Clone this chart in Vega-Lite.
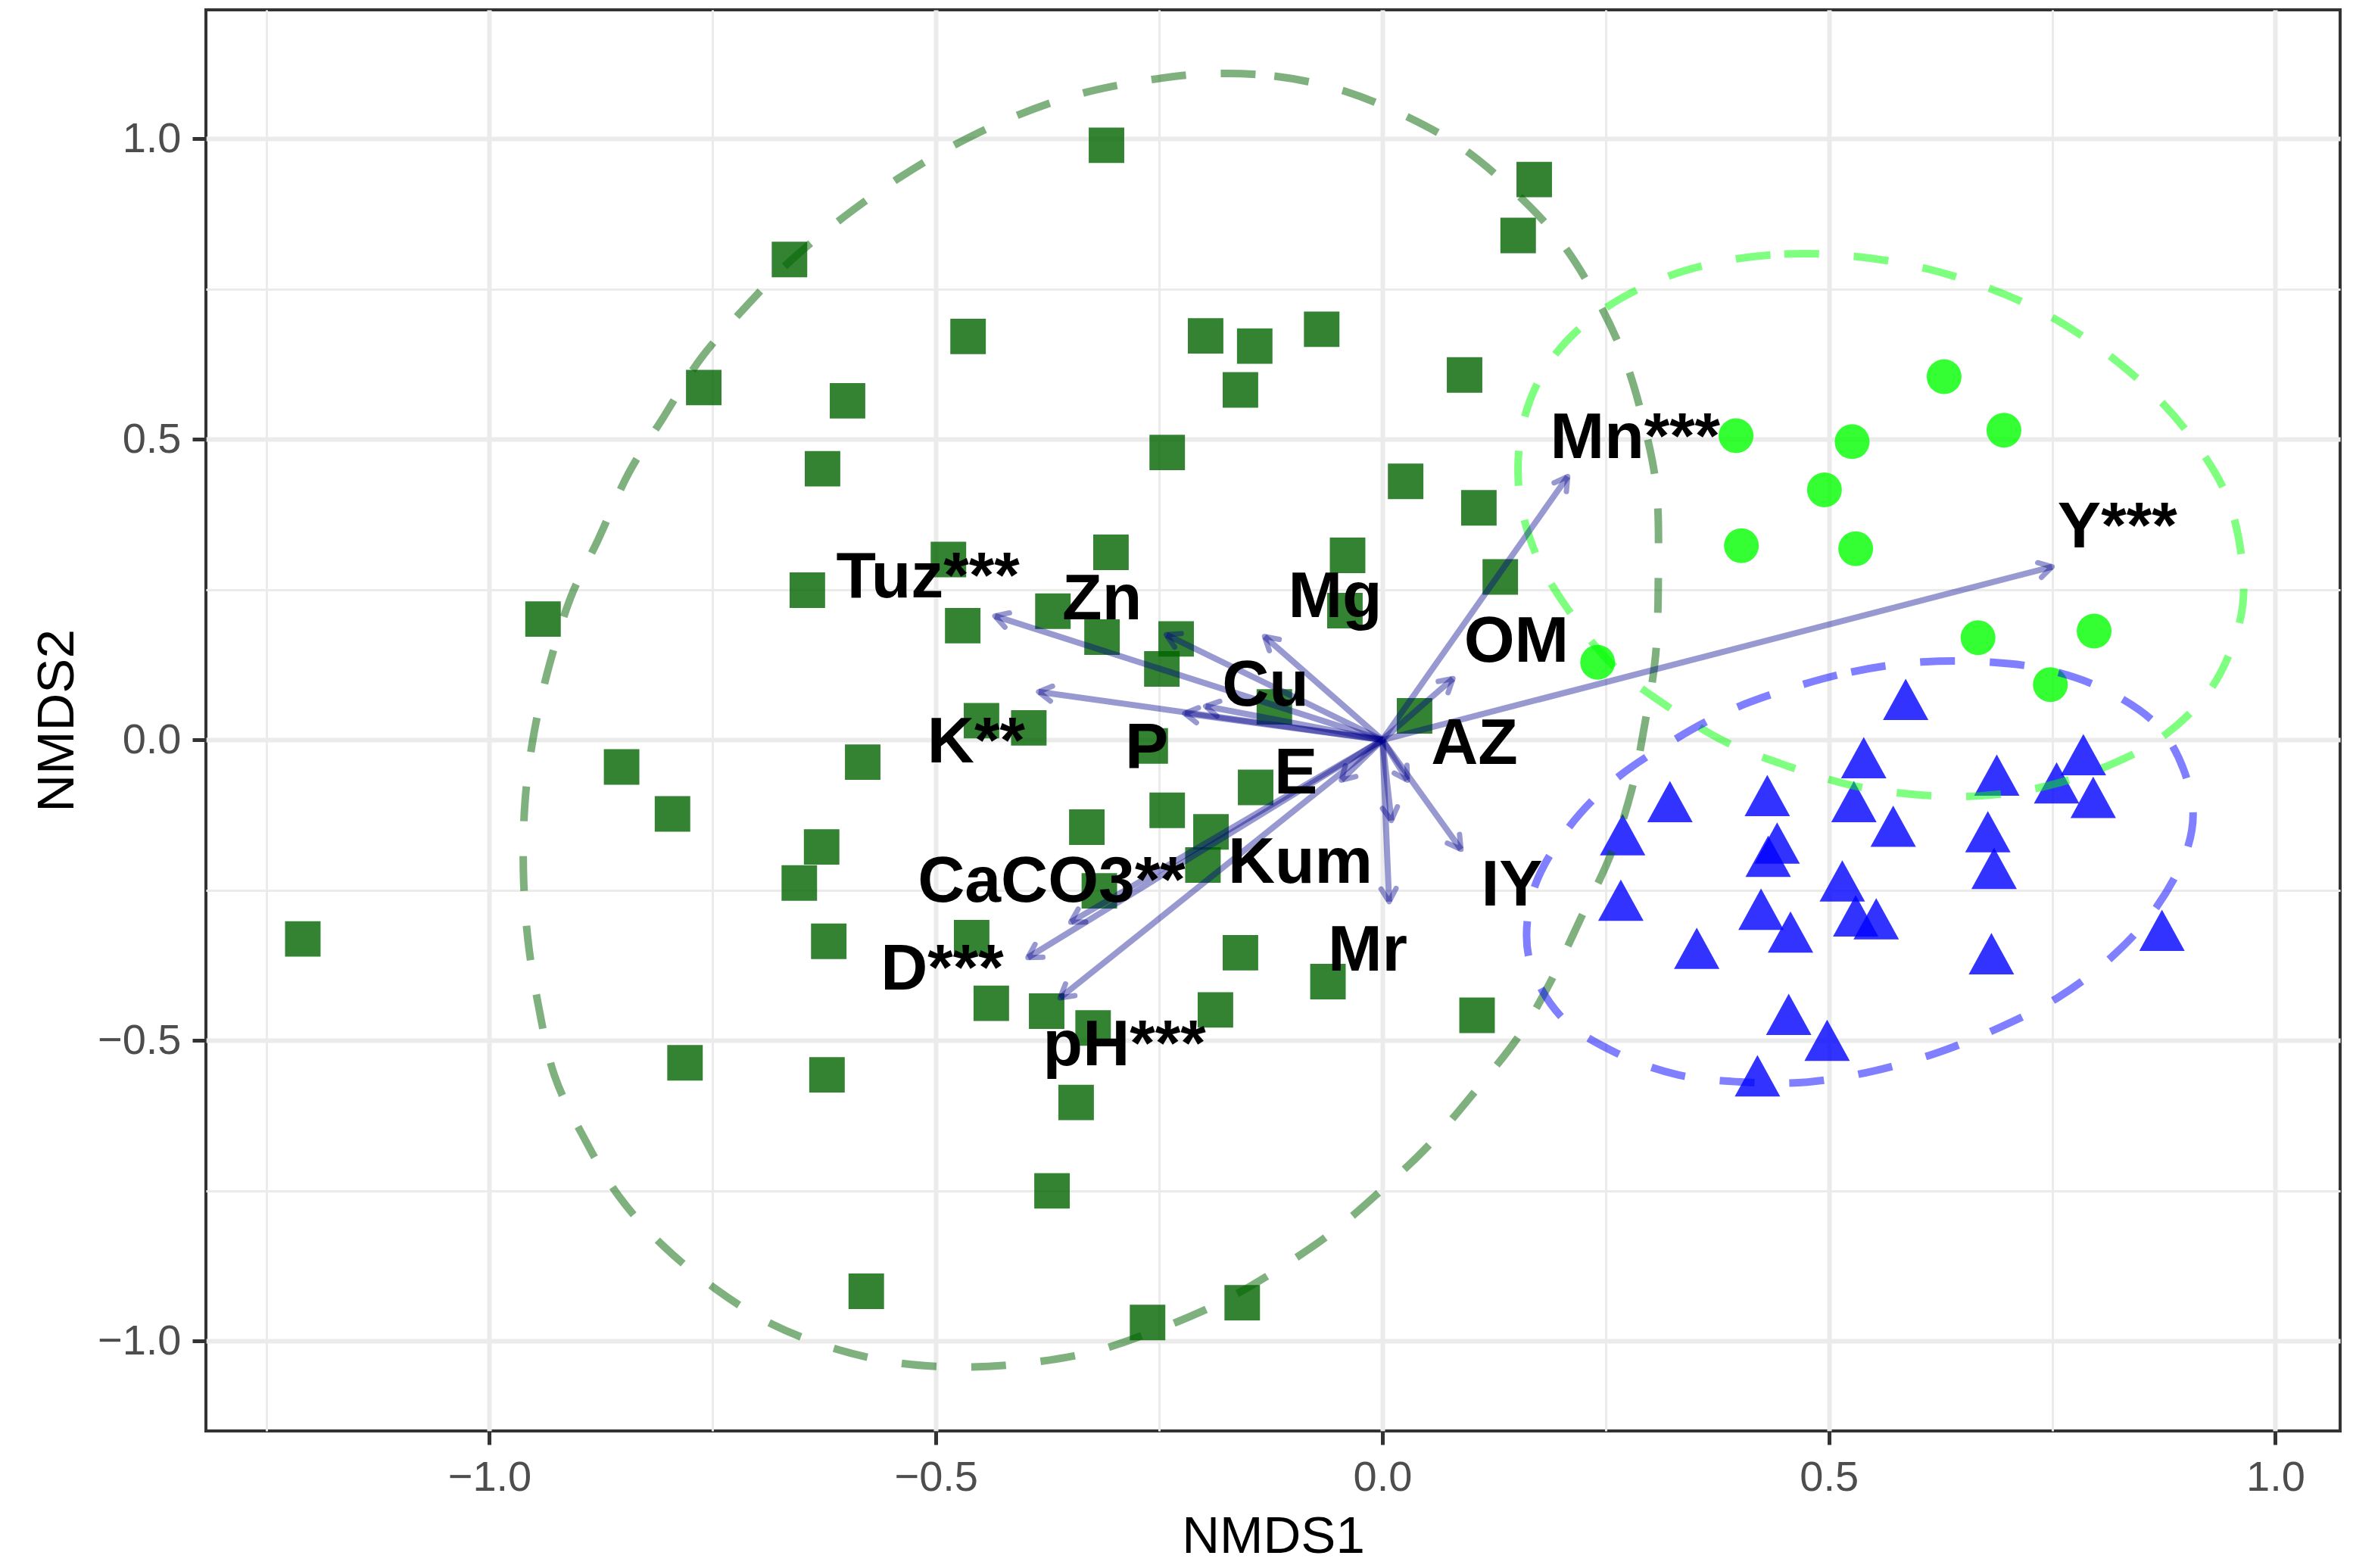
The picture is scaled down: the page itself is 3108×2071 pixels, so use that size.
{
  "$schema": "https://vega.github.io/schema/vega-lite/v6.json",
  "width": 2819,
  "height": 1877,
  "autosize": {"type": "none"},
  "padding": {"left": 272, "top": 13, "right": 17, "bottom": 181},
  "background": "white",
  "config": {
    "view": {"stroke": "#333333", "strokeWidth": 4},
    "axis": {
      "domain": false,
      "grid": true,
      "gridColor": "#EBEBEB",
      "tickColor": "#333333",
      "tickSize": 18,
      "tickWidth": 5,
      "labelFont": "Liberation Sans",
      "labelFontSize": 56,
      "labelColor": "#4D4D4D",
      "labelOverlap": false,
      "labelFlush": false,
      "titleFont": "Liberation Sans",
      "titleFontSize": 69,
      "titleFontWeight": "normal",
      "titleColor": "#000000"
    }
  },
  "datasets": {
    "sites": [
      {"group": "Grup 1", "NMDS1": -0.309, "NMDS2": 0.989},
      {"group": "Grup 1", "NMDS1": 0.170, "NMDS2": 0.932},
      {"group": "Grup 1", "NMDS1": 0.152, "NMDS2": 0.839},
      {"group": "Grup 1", "NMDS1": -0.664, "NMDS2": 0.799},
      {"group": "Grup 1", "NMDS1": -0.464, "NMDS2": 0.671},
      {"group": "Grup 1", "NMDS1": -0.198, "NMDS2": 0.672},
      {"group": "Grup 1", "NMDS1": -0.143, "NMDS2": 0.655},
      {"group": "Grup 1", "NMDS1": -0.068, "NMDS2": 0.683},
      {"group": "Grup 1", "NMDS1": 0.092, "NMDS2": 0.607},
      {"group": "Grup 1", "NMDS1": -0.760, "NMDS2": 0.586},
      {"group": "Grup 1", "NMDS1": -0.599, "NMDS2": 0.564},
      {"group": "Grup 1", "NMDS1": -0.159, "NMDS2": 0.582},
      {"group": "Grup 1", "NMDS1": -0.241, "NMDS2": 0.478},
      {"group": "Grup 1", "NMDS1": -0.627, "NMDS2": 0.451},
      {"group": "Grup 1", "NMDS1": 0.026, "NMDS2": 0.430},
      {"group": "Grup 1", "NMDS1": 0.108, "NMDS2": 0.386},
      {"group": "Grup 1", "NMDS1": -0.304, "NMDS2": 0.312},
      {"group": "Grup 1", "NMDS1": -0.039, "NMDS2": 0.307},
      {"group": "Grup 1", "NMDS1": -0.486, "NMDS2": 0.300},
      {"group": "Grup 1", "NMDS1": 0.132, "NMDS2": 0.271},
      {"group": "Grup 1", "NMDS1": -0.644, "NMDS2": 0.249},
      {"group": "Grup 1", "NMDS1": -0.470, "NMDS2": 0.190},
      {"group": "Grup 1", "NMDS1": -0.369, "NMDS2": 0.214},
      {"group": "Grup 1", "NMDS1": -0.314, "NMDS2": 0.171},
      {"group": "Grup 1", "NMDS1": -0.231, "NMDS2": 0.168},
      {"group": "Grup 1", "NMDS1": -0.247, "NMDS2": 0.118},
      {"group": "Grup 1", "NMDS1": -0.042, "NMDS2": 0.215},
      {"group": "Grup 1", "NMDS1": -0.121, "NMDS2": 0.055},
      {"group": "Grup 1", "NMDS1": 0.036, "NMDS2": 0.040},
      {"group": "Grup 1", "NMDS1": -0.449, "NMDS2": 0.032},
      {"group": "Grup 1", "NMDS1": -0.396, "NMDS2": 0.020},
      {"group": "Grup 1", "NMDS1": -0.260, "NMDS2": -0.010},
      {"group": "Grup 1", "NMDS1": -0.582, "NMDS2": -0.037},
      {"group": "Grup 1", "NMDS1": -0.852, "NMDS2": -0.045},
      {"group": "Grup 1", "NMDS1": -0.795, "NMDS2": -0.123},
      {"group": "Grup 1", "NMDS1": -0.142, "NMDS2": -0.079},
      {"group": "Grup 1", "NMDS1": -0.331, "NMDS2": -0.145},
      {"group": "Grup 1", "NMDS1": -0.241, "NMDS2": -0.117},
      {"group": "Grup 1", "NMDS1": -0.192, "NMDS2": -0.153},
      {"group": "Grup 1", "NMDS1": -0.201, "NMDS2": -0.208},
      {"group": "Grup 1", "NMDS1": -0.628, "NMDS2": -0.178},
      {"group": "Grup 1", "NMDS1": -0.653, "NMDS2": -0.238},
      {"group": "Grup 1", "NMDS1": -0.317, "NMDS2": -0.251},
      {"group": "Grup 1", "NMDS1": -0.460, "NMDS2": -0.329},
      {"group": "Grup 1", "NMDS1": -0.620, "NMDS2": -0.335},
      {"group": "Grup 1", "NMDS1": -0.940, "NMDS2": 0.201},
      {"group": "Grup 1", "NMDS1": -1.209, "NMDS2": -0.331},
      {"group": "Grup 1", "NMDS1": -0.159, "NMDS2": -0.354},
      {"group": "Grup 1", "NMDS1": -0.061, "NMDS2": -0.402},
      {"group": "Grup 1", "NMDS1": 0.106, "NMDS2": -0.458},
      {"group": "Grup 1", "NMDS1": -0.438, "NMDS2": -0.438},
      {"group": "Grup 1", "NMDS1": -0.376, "NMDS2": -0.451},
      {"group": "Grup 1", "NMDS1": -0.187, "NMDS2": -0.449},
      {"group": "Grup 1", "NMDS1": -0.324, "NMDS2": -0.479},
      {"group": "Grup 1", "NMDS1": -0.781, "NMDS2": -0.537},
      {"group": "Grup 1", "NMDS1": -0.622, "NMDS2": -0.557},
      {"group": "Grup 1", "NMDS1": -0.343, "NMDS2": -0.603},
      {"group": "Grup 1", "NMDS1": -0.370, "NMDS2": -0.750},
      {"group": "Grup 1", "NMDS1": -0.578, "NMDS2": -0.917},
      {"group": "Grup 1", "NMDS1": -0.263, "NMDS2": -0.969},
      {"group": "Grup 1", "NMDS1": -0.157, "NMDS2": -0.936},
      {"group": "Grup 2", "NMDS1": 0.629, "NMDS2": 0.604},
      {"group": "Grup 2", "NMDS1": 0.396, "NMDS2": 0.506},
      {"group": "Grup 2", "NMDS1": 0.526, "NMDS2": 0.496},
      {"group": "Grup 2", "NMDS1": 0.696, "NMDS2": 0.515},
      {"group": "Grup 2", "NMDS1": 0.495, "NMDS2": 0.416},
      {"group": "Grup 2", "NMDS1": 0.402, "NMDS2": 0.323},
      {"group": "Grup 2", "NMDS1": 0.530, "NMDS2": 0.318},
      {"group": "Grup 2", "NMDS1": 0.667, "NMDS2": 0.170},
      {"group": "Grup 2", "NMDS1": 0.797, "NMDS2": 0.181},
      {"group": "Grup 2", "NMDS1": 0.748, "NMDS2": 0.092},
      {"group": "Grup 2", "NMDS1": 0.241, "NMDS2": 0.129},
      {"group": "Grup 3", "NMDS1": 0.586, "NMDS2": 0.056},
      {"group": "Grup 3", "NMDS1": 0.539, "NMDS2": -0.041},
      {"group": "Grup 3", "NMDS1": 0.688, "NMDS2": -0.070},
      {"group": "Grup 3", "NMDS1": 0.785, "NMDS2": -0.036},
      {"group": "Grup 3", "NMDS1": 0.755, "NMDS2": -0.083},
      {"group": "Grup 3", "NMDS1": 0.796, "NMDS2": -0.107},
      {"group": "Grup 3", "NMDS1": 0.528, "NMDS2": -0.114},
      {"group": "Grup 3", "NMDS1": 0.431, "NMDS2": -0.104},
      {"group": "Grup 3", "NMDS1": 0.322, "NMDS2": -0.114},
      {"group": "Grup 3", "NMDS1": 0.572, "NMDS2": -0.155},
      {"group": "Grup 3", "NMDS1": 0.269, "NMDS2": -0.169},
      {"group": "Grup 3", "NMDS1": 0.442, "NMDS2": -0.183},
      {"group": "Grup 3", "NMDS1": 0.432, "NMDS2": -0.205},
      {"group": "Grup 3", "NMDS1": 0.678, "NMDS2": -0.164},
      {"group": "Grup 3", "NMDS1": 0.685, "NMDS2": -0.225},
      {"group": "Grup 3", "NMDS1": 0.515, "NMDS2": -0.246},
      {"group": "Grup 3", "NMDS1": 0.267, "NMDS2": -0.278},
      {"group": "Grup 3", "NMDS1": 0.424, "NMDS2": -0.293},
      {"group": "Grup 3", "NMDS1": 0.530, "NMDS2": -0.304},
      {"group": "Grup 3", "NMDS1": 0.553, "NMDS2": -0.309},
      {"group": "Grup 3", "NMDS1": 0.457, "NMDS2": -0.331},
      {"group": "Grup 3", "NMDS1": 0.873, "NMDS2": -0.328},
      {"group": "Grup 3", "NMDS1": 0.352, "NMDS2": -0.358},
      {"group": "Grup 3", "NMDS1": 0.682, "NMDS2": -0.367},
      {"group": "Grup 3", "NMDS1": 0.455, "NMDS2": -0.468},
      {"group": "Grup 3", "NMDS1": 0.498, "NMDS2": -0.511},
      {"group": "Grup 3", "NMDS1": 0.420, "NMDS2": -0.570}
    ],
    "ellipses": [
      {"group": "Grup 1", "i": 1, "NMDS1": -0.195, "NMDS2": 1.108},
      {"group": "Grup 1", "i": 2, "NMDS1": -0.121, "NMDS2": 1.104},
      {"group": "Grup 1", "i": 3, "NMDS1": -0.049, "NMDS2": 1.082},
      {"group": "Grup 1", "i": 4, "NMDS1": 0.020, "NMDS2": 1.042},
      {"group": "Grup 1", "i": 5, "NMDS1": 0.085, "NMDS2": 0.989},
      {"group": "Grup 1", "i": 6, "NMDS1": 0.142, "NMDS2": 0.920},
      {"group": "Grup 1", "i": 7, "NMDS1": 0.196, "NMDS2": 0.836},
      {"group": "Grup 1", "i": 8, "NMDS1": 0.237, "NMDS2": 0.742},
      {"group": "Grup 1", "i": 9, "NMDS1": 0.270, "NMDS2": 0.639},
      {"group": "Grup 1", "i": 10, "NMDS1": 0.292, "NMDS2": 0.531},
      {"group": "Grup 1", "i": 11, "NMDS1": 0.307, "NMDS2": 0.416},
      {"group": "Grup 1", "i": 12, "NMDS1": 0.309, "NMDS2": 0.278},
      {"group": "Grup 1", "i": 13, "NMDS1": 0.306, "NMDS2": 0.142},
      {"group": "Grup 1", "i": 14, "NMDS1": 0.294, "NMDS2": 0.028},
      {"group": "Grup 1", "i": 15, "NMDS1": 0.279, "NMDS2": -0.084},
      {"group": "Grup 1", "i": 16, "NMDS1": 0.255, "NMDS2": -0.193},
      {"group": "Grup 1", "i": 17, "NMDS1": 0.222, "NMDS2": -0.297},
      {"group": "Grup 1", "i": 18, "NMDS1": 0.189, "NMDS2": -0.400},
      {"group": "Grup 1", "i": 19, "NMDS1": 0.153, "NMDS2": -0.492},
      {"group": "Grup 1", "i": 20, "NMDS1": 0.103, "NMDS2": -0.586},
      {"group": "Grup 1", "i": 21, "NMDS1": 0.052, "NMDS2": -0.674},
      {"group": "Grup 1", "i": 22, "NMDS1": -0.002, "NMDS2": -0.750},
      {"group": "Grup 1", "i": 23, "NMDS1": -0.058, "NMDS2": -0.821},
      {"group": "Grup 1", "i": 24, "NMDS1": -0.124, "NMDS2": -0.887},
      {"group": "Grup 1", "i": 25, "NMDS1": -0.186, "NMDS2": -0.939},
      {"group": "Grup 1", "i": 26, "NMDS1": -0.254, "NMDS2": -0.982},
      {"group": "Grup 1", "i": 27, "NMDS1": -0.323, "NMDS2": -1.017},
      {"group": "Grup 1", "i": 28, "NMDS1": -0.396, "NMDS2": -1.036},
      {"group": "Grup 1", "i": 29, "NMDS1": -0.468, "NMDS2": -1.043},
      {"group": "Grup 1", "i": 30, "NMDS1": -0.543, "NMDS2": -1.036},
      {"group": "Grup 1", "i": 31, "NMDS1": -0.614, "NMDS2": -1.012},
      {"group": "Grup 1", "i": 32, "NMDS1": -0.683, "NMDS2": -0.972},
      {"group": "Grup 1", "i": 33, "NMDS1": -0.745, "NMDS2": -0.915},
      {"group": "Grup 1", "i": 34, "NMDS1": -0.805, "NMDS2": -0.842},
      {"group": "Grup 1", "i": 35, "NMDS1": -0.855, "NMDS2": -0.759},
      {"group": "Grup 1", "i": 36, "NMDS1": -0.894, "NMDS2": -0.662},
      {"group": "Grup 1", "i": 37, "NMDS1": -0.927, "NMDS2": -0.559},
      {"group": "Grup 1", "i": 38, "NMDS1": -0.945, "NMDS2": -0.443},
      {"group": "Grup 1", "i": 39, "NMDS1": -0.957, "NMDS2": -0.331},
      {"group": "Grup 1", "i": 40, "NMDS1": -0.962, "NMDS2": -0.216},
      {"group": "Grup 1", "i": 41, "NMDS1": -0.960, "NMDS2": -0.100},
      {"group": "Grup 1", "i": 42, "NMDS1": -0.950, "NMDS2": 0.012},
      {"group": "Grup 1", "i": 43, "NMDS1": -0.933, "NMDS2": 0.124},
      {"group": "Grup 1", "i": 44, "NMDS1": -0.909, "NMDS2": 0.237},
      {"group": "Grup 1", "i": 45, "NMDS1": -0.878, "NMDS2": 0.334},
      {"group": "Grup 1", "i": 46, "NMDS1": -0.844, "NMDS2": 0.444},
      {"group": "Grup 1", "i": 47, "NMDS1": -0.805, "NMDS2": 0.537},
      {"group": "Grup 1", "i": 48, "NMDS1": -0.763, "NMDS2": 0.635},
      {"group": "Grup 1", "i": 49, "NMDS1": -0.712, "NMDS2": 0.722},
      {"group": "Grup 1", "i": 50, "NMDS1": -0.662, "NMDS2": 0.798},
      {"group": "Grup 1", "i": 51, "NMDS1": -0.603, "NMDS2": 0.870},
      {"group": "Grup 1", "i": 52, "NMDS1": -0.541, "NMDS2": 0.935},
      {"group": "Grup 1", "i": 53, "NMDS1": -0.476, "NMDS2": 0.992},
      {"group": "Grup 1", "i": 54, "NMDS1": -0.410, "NMDS2": 1.038},
      {"group": "Grup 1", "i": 55, "NMDS1": -0.340, "NMDS2": 1.074},
      {"group": "Grup 1", "i": 56, "NMDS1": -0.268, "NMDS2": 1.096},
      {"group": "Grup 2", "i": 1, "NMDS1": 0.378, "NMDS2": 0.795},
      {"group": "Grup 2", "i": 2, "NMDS1": 0.450, "NMDS2": 0.808},
      {"group": "Grup 2", "i": 3, "NMDS1": 0.524, "NMDS2": 0.805},
      {"group": "Grup 2", "i": 4, "NMDS1": 0.597, "NMDS2": 0.788},
      {"group": "Grup 2", "i": 5, "NMDS1": 0.667, "NMDS2": 0.758},
      {"group": "Grup 2", "i": 6, "NMDS1": 0.735, "NMDS2": 0.715},
      {"group": "Grup 2", "i": 7, "NMDS1": 0.799, "NMDS2": 0.656},
      {"group": "Grup 2", "i": 8, "NMDS1": 0.857, "NMDS2": 0.585},
      {"group": "Grup 2", "i": 9, "NMDS1": 0.907, "NMDS2": 0.501},
      {"group": "Grup 2", "i": 10, "NMDS1": 0.946, "NMDS2": 0.404},
      {"group": "Grup 2", "i": 11, "NMDS1": 0.963, "NMDS2": 0.293},
      {"group": "Grup 2", "i": 12, "NMDS1": 0.960, "NMDS2": 0.196},
      {"group": "Grup 2", "i": 13, "NMDS1": 0.930, "NMDS2": 0.090},
      {"group": "Grup 2", "i": 14, "NMDS1": 0.877, "NMDS2": 0.009},
      {"group": "Grup 2", "i": 15, "NMDS1": 0.814, "NMDS2": -0.042},
      {"group": "Grup 2", "i": 16, "NMDS1": 0.743, "NMDS2": -0.077},
      {"group": "Grup 2", "i": 17, "NMDS1": 0.670, "NMDS2": -0.093},
      {"group": "Grup 2", "i": 18, "NMDS1": 0.597, "NMDS2": -0.091},
      {"group": "Grup 2", "i": 19, "NMDS1": 0.524, "NMDS2": -0.075},
      {"group": "Grup 2", "i": 20, "NMDS1": 0.453, "NMDS2": -0.043},
      {"group": "Grup 2", "i": 21, "NMDS1": 0.384, "NMDS2": -0.003},
      {"group": "Grup 2", "i": 22, "NMDS1": 0.320, "NMDS2": 0.055},
      {"group": "Grup 2", "i": 23, "NMDS1": 0.259, "NMDS2": 0.123},
      {"group": "Grup 2", "i": 24, "NMDS1": 0.213, "NMDS2": 0.206},
      {"group": "Grup 2", "i": 25, "NMDS1": 0.173, "NMDS2": 0.305},
      {"group": "Grup 2", "i": 26, "NMDS1": 0.153, "NMDS2": 0.415},
      {"group": "Grup 2", "i": 27, "NMDS1": 0.158, "NMDS2": 0.530},
      {"group": "Grup 2", "i": 28, "NMDS1": 0.189, "NMDS2": 0.632},
      {"group": "Grup 2", "i": 29, "NMDS1": 0.242, "NMDS2": 0.710},
      {"group": "Grup 2", "i": 30, "NMDS1": 0.308, "NMDS2": 0.764},
      {"group": "Grup 3", "i": 1, "NMDS1": 0.453, "NMDS2": 0.084},
      {"group": "Grup 3", "i": 2, "NMDS1": 0.525, "NMDS2": 0.113},
      {"group": "Grup 3", "i": 3, "NMDS1": 0.598, "NMDS2": 0.129},
      {"group": "Grup 3", "i": 4, "NMDS1": 0.672, "NMDS2": 0.130},
      {"group": "Grup 3", "i": 5, "NMDS1": 0.744, "NMDS2": 0.117},
      {"group": "Grup 3", "i": 6, "NMDS1": 0.814, "NMDS2": 0.080},
      {"group": "Grup 3", "i": 7, "NMDS1": 0.874, "NMDS2": 0.014},
      {"group": "Grup 3", "i": 8, "NMDS1": 0.905, "NMDS2": -0.088},
      {"group": "Grup 3", "i": 9, "NMDS1": 0.902, "NMDS2": -0.178},
      {"group": "Grup 3", "i": 10, "NMDS1": 0.866, "NMDS2": -0.280},
      {"group": "Grup 3", "i": 11, "NMDS1": 0.816, "NMDS2": -0.362},
      {"group": "Grup 3", "i": 12, "NMDS1": 0.757, "NMDS2": -0.428},
      {"group": "Grup 3", "i": 13, "NMDS1": 0.690, "NMDS2": -0.479},
      {"group": "Grup 3", "i": 14, "NMDS1": 0.622, "NMDS2": -0.520},
      {"group": "Grup 3", "i": 15, "NMDS1": 0.549, "NMDS2": -0.551},
      {"group": "Grup 3", "i": 16, "NMDS1": 0.476, "NMDS2": -0.569},
      {"group": "Grup 3", "i": 17, "NMDS1": 0.404, "NMDS2": -0.569},
      {"group": "Grup 3", "i": 18, "NMDS1": 0.331, "NMDS2": -0.557},
      {"group": "Grup 3", "i": 19, "NMDS1": 0.261, "NMDS2": -0.520},
      {"group": "Grup 3", "i": 20, "NMDS1": 0.200, "NMDS2": -0.460},
      {"group": "Grup 3", "i": 21, "NMDS1": 0.164, "NMDS2": -0.362},
      {"group": "Grup 3", "i": 22, "NMDS1": 0.169, "NMDS2": -0.251},
      {"group": "Grup 3", "i": 23, "NMDS1": 0.206, "NMDS2": -0.151},
      {"group": "Grup 3", "i": 24, "NMDS1": 0.258, "NMDS2": -0.069},
      {"group": "Grup 3", "i": 25, "NMDS1": 0.320, "NMDS2": -0.006},
      {"group": "Grup 3", "i": 26, "NMDS1": 0.384, "NMDS2": 0.046}
    ],
    "vectors": [
      {"name": "Tuz", "label": "Tuz***", "NMDS1": -0.434, "NMDS2": 0.206, "lx": -0.509, "ly": 0.237},
      {"name": "Zn", "label": "Zn", "NMDS1": -0.242, "NMDS2": 0.175, "lx": -0.314, "ly": 0.2005},
      {"name": "Mg", "label": "Mg", "NMDS1": -0.132, "NMDS2": 0.172, "lx": -0.053, "ly": 0.204},
      {"name": "K", "label": "K**", "NMDS1": -0.385, "NMDS2": 0.080, "lx": -0.455, "ly": -0.037},
      {"name": "P", "label": "P", "NMDS1": -0.2215, "NMDS2": 0.044, "lx": -0.264, "ly": -0.047},
      {"name": "Cu", "label": "Cu", "NMDS1": -0.198, "NMDS2": 0.056, "lx": -0.131, "ly": 0.057},
      {"name": "OM", "label": "OM", "NMDS1": 0.079, "NMDS2": 0.102, "lx": 0.150, "ly": 0.130},
      {"name": "AZ", "label": "AZ", "NMDS1": 0.028, "NMDS2": -0.067, "lx": 0.103, "ly": -0.040},
      {"name": "E", "label": "E", "NMDS1": -0.046, "NMDS2": -0.067, "lx": -0.097, "ly": -0.089},
      {"name": "Kum", "label": "Kum", "NMDS1": 0.010, "NMDS2": -0.134, "lx": -0.092, "ly": -0.238},
      {"name": "Mr", "label": "Mr", "NMDS1": 0.0075, "NMDS2": -0.269, "lx": -0.0165, "ly": -0.384},
      {"name": "IY", "label": "IY", "NMDS1": 0.088, "NMDS2": -0.182, "lx": 0.145, "ly": -0.275},
      {"name": "CaCO3", "label": "CaCO3**", "NMDS1": -0.349, "NMDS2": -0.303, "lx": -0.3705, "ly": -0.269},
      {"name": "D", "label": "D***", "NMDS1": -0.397, "NMDS2": -0.362, "lx": -0.493, "ly": -0.415},
      {"name": "pH", "label": "pH***", "NMDS1": -0.361, "NMDS2": -0.429, "lx": -0.289, "ly": -0.541},
      {"name": "Mn", "label": "Mn***", "NMDS1": 0.2075, "NMDS2": 0.438, "lx": 0.283, "ly": 0.469},
      {"name": "Y", "label": "Y***", "NMDS1": 0.750, "NMDS2": 0.288, "lx": 0.823, "ly": 0.320}
    ]
  },
  "layer": [
    {
      "data": {"name": "sites"},
      "transform": [{"filter": {"field": "group", "equal": "Grup 1"}}],
      "mark": {"type": "point", "shape": "square", "filled": true, "color": "#006400", "opacity": 0.8, "size": 2200, "strokeWidth": 0},
      "encoding": {
        "x": {
          "field": "NMDS1", "type": "quantitative",
          "scale": {"domain": [-1.3175, 1.0725], "nice": false, "zero": false},
          "axis": {
            "title": "NMDS1",
            "values": [-1.25, -1, -0.75, -0.5, -0.25, 0, 0.25, 0.5, 0.75, 1],
            "format": ".1f",
            "labelExpr": "abs(datum.value*2-round(datum.value*2))<0.01 ? datum.label : ''",
            "gridWidth": {"condition": {"test": "abs(datum.value*2-round(datum.value*2))<0.01", "value": 6}, "value": 3},
            "tickOpacity": {"condition": {"test": "abs(datum.value*2-round(datum.value*2))<0.01", "value": 1}, "value": 0},
            "labelPadding": 16,
            "titlePadding": 16
          }
        },
        "y": {
          "field": "NMDS2", "type": "quantitative",
          "scale": {"domain": [-1.1493, 1.2142], "nice": false, "zero": false},
          "axis": {
            "title": "NMDS2",
            "values": [-1, -0.75, -0.5, -0.25, 0, 0.25, 0.5, 0.75, 1],
            "format": ".1f",
            "labelExpr": "abs(datum.value*2-round(datum.value*2))<0.01 ? datum.label : ''",
            "gridWidth": {"condition": {"test": "abs(datum.value*2-round(datum.value*2))<0.01", "value": 6}, "value": 3},
            "tickOpacity": {"condition": {"test": "abs(datum.value*2-round(datum.value*2))<0.01", "value": 1}, "value": 0},
            "labelPadding": 15,
            "titlePadding": 18
          }
        }
      }
    },
    {
      "data": {"name": "sites"},
      "transform": [{"filter": {"field": "group", "equal": "Grup 2"}}],
      "mark": {"type": "point", "shape": "circle", "filled": true, "color": "#00FF00", "opacity": 0.8, "size": 2116, "strokeWidth": 0},
      "encoding": {
        "x": {"field": "NMDS1", "type": "quantitative", "title": "NMDS1"},
        "y": {"field": "NMDS2", "type": "quantitative", "title": "NMDS2"}
      }
    },
    {
      "data": {"name": "sites"},
      "transform": [{"filter": {"field": "group", "equal": "Grup 3"}}],
      "mark": {"type": "point", "shape": "M0,-1.05L0.866,0.525L-0.866,0.525Z", "filled": true, "color": "#0000FF", "opacity": 0.8, "size": 4800, "strokeWidth": 0},
      "encoding": {
        "x": {"field": "NMDS1", "type": "quantitative", "title": "NMDS1"},
        "y": {"field": "NMDS2", "type": "quantitative", "title": "NMDS2"}
      }
    },
    {
      "data": {"name": "ellipses"},
      "mark": {"type": "line", "interpolate": "cardinal-closed", "strokeWidth": 10, "strokeDash": [46, 46], "opacity": 0.5},
      "encoding": {
        "x": {"field": "NMDS1", "type": "quantitative", "title": "NMDS1"},
        "y": {"field": "NMDS2", "type": "quantitative", "title": "NMDS2"},
        "order": {"field": "i", "type": "quantitative"},
        "color": {"field": "group", "type": "nominal", "scale": {"domain": ["Grup 1", "Grup 2", "Grup 3"], "range": ["#006400", "#00FF00", "#0000FF"]}, "legend": null}
      }
    },
    {
      "data": {"name": "vectors"},
      "mark": {"type": "rule", "color": "#00008B", "opacity": 0.4, "strokeWidth": 8},
      "encoding": {
        "x": {"field": "NMDS1", "type": "quantitative", "title": "NMDS1"},
        "y": {"field": "NMDS2", "type": "quantitative", "title": "NMDS2"},
        "x2": {"datum": 0},
        "y2": {"datum": 0}
      }
    },
    {
      "data": {"name": "vectors"},
      "mark": {"type": "point", "shape": "M-0.55,0.95L0,0L0.55,0.95", "filled": false, "color": "#00008B", "opacity": 0.4, "size": 1300, "strokeWidth": 7, "strokeCap": "round", "strokeJoin": "round",
        "angle": {"expr": "atan2(datum.NMDS1*1179.5, datum.NMDS2*794.2)*180/PI"}},
      "encoding": {
        "x": {"field": "NMDS1", "type": "quantitative", "title": "NMDS1"},
        "y": {"field": "NMDS2", "type": "quantitative", "title": "NMDS2"}
      }
    },
    {
      "data": {"name": "vectors"},
      "mark": {"type": "text", "font": "Liberation Sans", "fontWeight": "bold", "fontSize": 86, "color": "#000000", "align": "center", "baseline": "alphabetic"},
      "encoding": {
        "x": {"field": "lx", "type": "quantitative", "title": "NMDS1"},
        "y": {"field": "ly", "type": "quantitative", "title": "NMDS2"},
        "text": {"field": "label", "type": "nominal"}
      }
    }
  ]
}
